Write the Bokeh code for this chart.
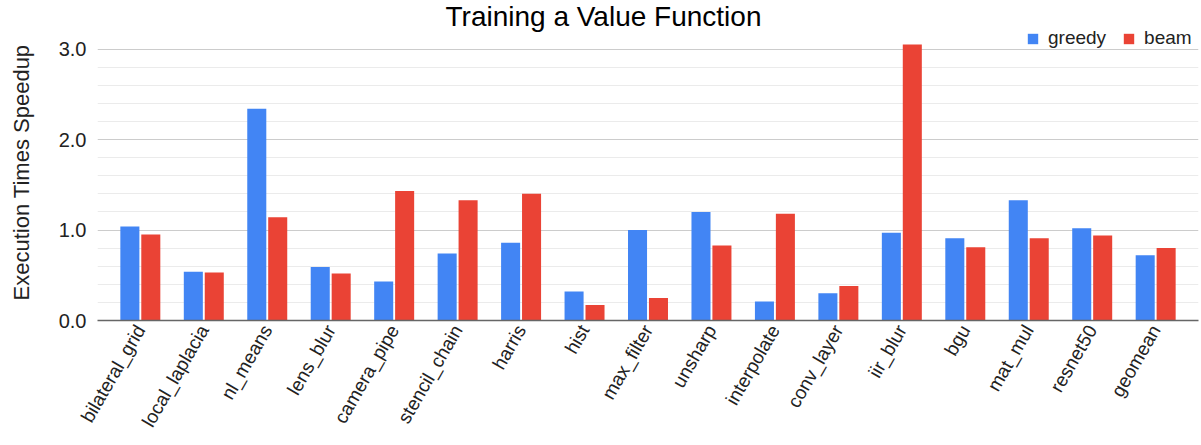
from math import pi
from bokeh.plotting import figure
from bokeh.models import (ColumnDataSource, FactorRange, Range1d, FixedTicker,
                          Legend, LegendItem, PrintfTickFormatter, Title)
from bokeh.transform import dodge
from bokeh.embed import file_html
from bokeh.resources import INLINE

title_text = "Training a Value Function"
categories = ["bilateral_grid", "local_laplacia", "nl_means", "lens_blur", "camera_pipe",
              "stencil_chain", "harris", "hist", "max_filter", "unsharp", "interpolate",
              "conv_layer", "iir_blur", "bgu", "mat_mul", "resnet50", "geomean"]
greedy = [1.04, 0.54, 2.34, 0.59, 0.43, 0.74, 0.86, 0.32, 1.00, 1.20, 0.21,
          0.30, 0.97, 0.91, 1.33, 1.02, 0.72]
beam = [0.95, 0.53, 1.14, 0.52, 1.43, 1.33, 1.40, 0.17, 0.25, 0.83, 1.18,
        0.38, 3.05, 0.81, 0.91, 0.94, 0.80]
y_major = [0.0, 1.0, 2.0, 3.0]
y_minor = [0.2, 0.4, 0.6, 0.8, 1.2, 1.4, 1.6, 1.8, 2.2, 2.4, 2.6, 2.8]

FONT = "Liberation Sans"
BLUE = "#4285F4"
RED = "#EA4335"

src = ColumnDataSource(data=dict(cat=categories, greedy=greedy, beam=beam))

p = figure(x_range=FactorRange(*categories, range_padding=0.175, range_padding_units="absolute"),
           y_range=Range1d(0, 3.271),
           width=1201, height=445, output_backend="svg", toolbar_location=None,
           title=None,
           min_border_left=97, min_border_right=3, min_border_top=24, min_border_bottom=125)

title = Title(text=title_text, align="left", offset=348, standoff=-14,
              text_font=FONT, text_font_size="28px", text_font_style="normal",
              text_color="#000000")
p.add_layout(title, "above")

r1 = p.vbar(x=dodge("cat", -0.165, range=p.x_range), top="greedy", width=0.30,
            source=src, fill_color=BLUE, line_color=None)
r2 = p.vbar(x=dodge("cat", 0.165, range=p.x_range), top="beam", width=0.30,
            source=src, fill_color=RED, line_color=None)

p.outline_line_color = None
p.xgrid.grid_line_color = None
p.yaxis.ticker = FixedTicker(ticks=y_major, minor_ticks=y_minor)
p.ygrid.grid_line_color = "#cccccc"
p.ygrid.minor_grid_line_color = "#ebebeb"

p.yaxis.formatter = PrintfTickFormatter(format="%.1f")
p.yaxis.axis_line_color = None
p.yaxis.major_tick_line_color = None
p.yaxis.minor_tick_line_color = None
p.yaxis.major_tick_out = 0
p.yaxis.major_tick_in = 0
p.yaxis.minor_tick_out = 0
p.yaxis.major_label_text_font = FONT
p.yaxis.major_label_text_font_size = "20px"
p.yaxis.major_label_text_color = "#222222"
p.yaxis.major_label_standoff = 11
p.yaxis.axis_label = "Execution Times Speedup"
p.yaxis.axis_label_text_font = FONT
p.yaxis.axis_label_text_font_size = "22px"
p.yaxis.axis_label_text_font_style = "normal"
p.yaxis.axis_label_text_color = "#222222"
p.yaxis.axis_label_standoff = 22

p.xaxis.axis_line_color = "#666666"
p.xaxis.axis_line_width = 1.5
p.xaxis.major_tick_line_color = None
p.xaxis.minor_tick_line_color = None
p.xaxis.major_tick_out = 0
p.xaxis.major_tick_in = 0
p.xaxis.minor_tick_out = 0
p.xaxis.major_label_orientation = pi / 3
p.xaxis.major_label_text_font = FONT
p.xaxis.major_label_text_font_size = "19px"
p.xaxis.major_label_text_color = "#222222"
p.xaxis.major_label_standoff = 6

legend = Legend(items=[LegendItem(label="greedy", renderers=[r1]),
                       LegendItem(label="beam", renderers=[r2])],
                location=(929, 271), orientation="horizontal")
legend.padding = 0
legend.margin = 0
legend.spacing = 16
legend.label_standoff = 9
legend.glyph_width = 13
legend.glyph_height = 13
legend.label_text_font = FONT
legend.label_text_font_size = "19px"
legend.label_text_color = "#222222"
legend.border_line_color = None
legend.background_fill_alpha = 0
p.add_layout(legend, "center")

open("out.html", "w").write(file_html(p, INLINE))
